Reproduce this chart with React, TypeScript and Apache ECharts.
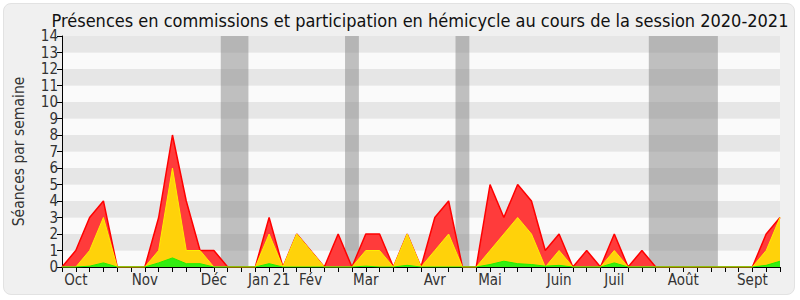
import React, { useEffect, useRef } from "react";
import * as echarts from "echarts";

const weeks: number[] = Array.from({ length: 53 }, (_, i) => i);
const presenceTotal: number[] = [0,1,3,4,0,0,0,3,8,4,1,1,0,0,0,3,0,2,1,0,2,0,2,2,0,2,0,3,4,0,0,5,3,5,4,1,2,0,1,0,2,0,1,0,0,0,0,0,0,0,0,2,3];
const commission: number[] = [0,0,1,3,0,0,0,1,6,1,1,0,0,0,0,2,0,2,1,0,0,0,1,1,0,2,0,1,2,0,0,1,2,3,2,0,1,0,0,0,1,0,0,0,0,0,0,0,0,0,0,1,3];
const hemicycle: number[] = [0,0,0.05,0.25,0,0,0,0.25,0.55,0.2,0.2,0,0,0,0,0.2,0,0,0,0,0,0,0.05,0,0,0.1,0,0,0,0,0,0.15,0.35,0.2,0.15,0.05,0.1,0,0,0,0.25,0,0,0,0,0,0,0,0,0,0,0.1,0.35];
const monthLabels: Record<number, string> = {1:"Oct",6:"Nov",11:"Déc",15:"Jan 21",18:"Fév",22:"Mar",27:"Avr",31:"Mai",36:"Juin",40:"Juil",45:"Août",50:"Sept"};
const vacations: [number, number][] = [[11.5,13.5],[20.5,21.5],[28.5,29.5],[42.5,47.5]];
const yTicks: number[] = Array.from({ length: 15 }, (_, i) => i);

const FONT = "DejaVu Sans Condensed, DejaVu Sans, sans-serif";

export default function App() {
  const ref = useRef<HTMLDivElement>(null);
  useEffect(() => {
    if (!ref.current) return;
    const chart = echarts.init(ref.current, null, { renderer: "svg" });
    const pts = (arr: number[]) => weeks.map((w, i) => [w, arr[i]]);
    chart.setOption({
      animation: false,
      title: {
        text: "Présences en commissions et participation en hémicycle au cours de la session 2020-2021",
        left: 415,
        textAlign: "center",
        top: 6,
        textStyle: { fontFamily: FONT, fontSize: 18, fontWeight: "normal", color: "#111" },
      },
      grid: { left: 62, right: 20, top: 36, bottom: 33 },
      xAxis: {
        type: "value",
        min: 0,
        max: 52,
        interval: 1,
        axisLine: { show: true, lineStyle: { color: "#000", width: 1 } },
        axisTick: { show: true, length: 5, lineStyle: { color: "#000" } },
        axisLabel: {
          fontFamily: FONT,
          fontSize: 15,
          color: "#333",
          margin: 5,
          formatter: (v: number) => monthLabels[v] ?? "",
        },
        splitLine: { show: false },
      },
      yAxis: {
        type: "value",
        min: 0,
        max: 14,
        interval: 1,
        name: "Séances par semaine",
        nameLocation: "middle",
        nameGap: 35,
        nameTextStyle: { fontFamily: FONT, fontSize: 15.5, color: "#333" },
        axisLine: { show: true, lineStyle: { color: "#000" } },
        axisTick: { show: true, length: 5, lineStyle: { color: "#000" } },
        axisLabel: {
          fontFamily: FONT,
          fontSize: 15,
          color: "#333",
          margin: 4,
          formatter: (v: number) => (yTicks.includes(v) ? String(v) : ""),
        },
        splitLine: { show: false },
        splitArea: { show: true, areaStyle: { color: ["#fafafa", "#e6e6e6"] } },
      },
      series: [
        {
          type: "line",
          data: pts(presenceTotal),
          symbol: "none",
          z: 2,
          lineStyle: { color: "#ff0000", width: 1.5 },
          areaStyle: { color: "#ff3b3b", opacity: 1 },
        },
        {
          type: "line",
          data: pts(commission),
          symbol: "none",
          z: 3,
          lineStyle: { color: "#ffee00", width: 1 },
          areaStyle: { color: "#ffd20a", opacity: 1 },
        },
        {
          type: "line",
          data: pts(hemicycle),
          symbol: "none",
          z: 4,
          lineStyle: { color: "#22ee00", width: 1 },
          areaStyle: { color: "#33ee11", opacity: 1 },
        },
        {
          type: "line",
          data: [],
          z: 5,
          markArea: {
            silent: true,
            itemStyle: { color: "rgba(132,132,132,0.5)" },
            data: vacations.map(([a, b]) => [{ xAxis: a }, { xAxis: b }]),
          },
        },
      ],
    });
    return () => chart.dispose();
  }, []);
  return (
    <div style={{ position: "fixed", left: 0, top: 0, width: 800, height: 300, background: "#ffffff" }}>
      <div
        style={{
          position: "absolute",
          left: 3,
          top: 3,
          width: 790,
          height: 290,
          background: "#f0f0f0",
          border: "1px solid #e2e2e2",
          borderRadius: 8,
        }}
      />
      <div ref={ref} style={{ position: "absolute", left: 0, top: 0, width: 800, height: 300 }} />
    </div>
  );
}
